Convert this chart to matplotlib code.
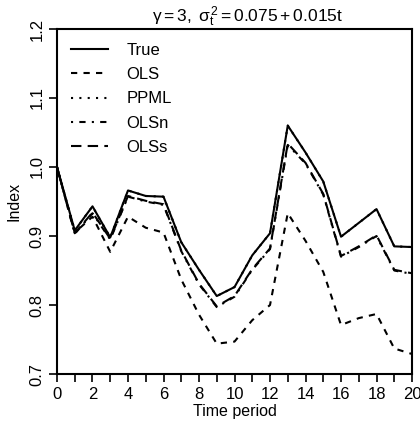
import numpy as np
import matplotlib
matplotlib.use("Agg")
import matplotlib.pyplot as plt

plt.rcParams['font.family'] = ['Liberation Sans', 'DejaVu Sans']
plt.rcParams['mathtext.fontset'] = 'custom'
plt.rcParams['mathtext.rm'] = 'Liberation Sans'
plt.rcParams['mathtext.it'] = 'Liberation Sans'

# values
t = list(range(21))
true_idx = [1.000, 0.908, 0.943, 0.898, 0.966, 0.958, 0.957, 0.891, 0.851, 0.813, 0.826,
            0.872, 0.904, 1.060, 1.021, 0.979, 0.899, 0.919, 0.939, 0.885, 0.884]
ols = [1.000, 0.905, 0.928, 0.877, 0.928, 0.912, 0.905, 0.837, 0.786, 0.744, 0.747,
       0.778, 0.800, 0.933, 0.893, 0.848, 0.771, 0.781, 0.787, 0.737, 0.729]
ppml = [1.000, 0.908, 0.943, 0.898, 0.966, 0.958, 0.957, 0.891, 0.851, 0.813, 0.826,
        0.872, 0.904, 1.060, 1.021, 0.979, 0.899, 0.919, 0.939, 0.885, 0.884]
olsn = [1.000, 0.903, 0.933, 0.895, 0.957, 0.950, 0.945, 0.878, 0.830, 0.797, 0.812,
        0.851, 0.881, 1.032, 1.005, 0.960, 0.870, 0.884, 0.900, 0.850, 0.845]
olss = [1.000, 0.904, 0.934, 0.896, 0.958, 0.951, 0.946, 0.879, 0.831, 0.798, 0.813,
        0.852, 0.882, 1.034, 1.006, 0.961, 0.871, 0.885, 0.901, 0.851, 0.846]

fig = plt.figure(figsize=(4.2, 4.26), dpi=100)
ax = fig.add_axes([0.1357, 0.122, 0.8453, 0.810])

lw = 1.5
ax.plot(t, true_idx, color='black', lw=lw, linestyle='-', label='True')
ax.plot(t, ols, color='black', lw=lw, linestyle=(0, (3, 3)), label='OLS')
ax.plot(t, ppml, color='black', lw=lw, linestyle=(0, (1, 3)), label='PPML')
ax.plot(t, olsn, color='black', lw=lw, linestyle=(0, (1, 3, 3, 3)), label='OLSn')
ax.plot(t, olss, color='black', lw=lw, linestyle=(0, (5, 3)), label='OLSs')

ax.set_xlim(0, 20)
ax.set_ylim(0.7, 1.2)
ax.set_xticks(range(0, 21))
ax.set_xticklabels([str(i) if i % 2 == 0 else '' for i in range(0, 21)])
ax.set_yticks([0.7, 0.8, 0.9, 1.0, 1.1, 1.2])
ax.set_yticklabels(['0.7', '0.8', '0.9', '1.0', '1.1', '1.2'], rotation=90, va='center')
ax.tick_params(direction='out', length=6, width=1.2, labelsize=12, pad=3)
for s in ax.spines.values():
    s.set_linewidth(1.5)

ax.set_xlabel('Time period', fontsize=11.5, labelpad=2)
ax.set_ylabel('Index', fontsize=11.5, labelpad=6)
ax.set_title(r'$\gamma = 3,\ \sigma_t^2 = 0.075 + 0.015t$', fontsize=12.5, pad=3, x=0.537)

ax.legend(loc='upper left', frameon=False, fontsize=12, handlelength=2.2,
          handletextpad=1.1, labelspacing=0.55, borderaxespad=0.45)

fig.savefig('out.png', dpi=100)
